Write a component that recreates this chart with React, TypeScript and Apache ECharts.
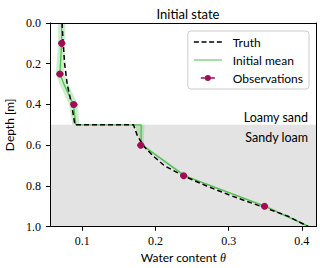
import React, { useEffect, useRef } from "react";
import * as echarts from "echarts";

// Truth profile (dashed)
const truthDepth = [0, 0.1, 0.2, 0.3, 0.4, 0.5, 0.5, 0.55, 0.6, 0.65, 0.7, 0.75, 0.8, 0.85, 0.9, 0.95, 1.0];
const truthTheta = [0.0725, 0.074, 0.076, 0.0795, 0.0855, 0.09, 0.17, 0.175, 0.183, 0.196, 0.212, 0.238, 0.27, 0.305, 0.344, 0.382, 0.409];

// Initial mean (green) and its spread band
const meanDepth = [0, 0.1, 0.25, 0.3, 0.4, 0.49, 0.5, 0.5, 0.575, 0.6, 0.75, 0.9, 1.0];
const meanTheta = [0.072, 0.0718, 0.0695, 0.075, 0.088, 0.091, 0.091, 0.1805, 0.1805, 0.182, 0.24, 0.35, 0.41];
const bandLow = [0.067, 0.067, 0.064, 0.069, 0.082, 0.086, 0.086, 0.172, 0.178, 0.18, 0.237, 0.347, 0.408];
const bandHigh = [0.077, 0.077, 0.075, 0.081, 0.094, 0.096, 0.096, 0.185, 0.184, 0.185, 0.243, 0.353, 0.412];

// Observations
const obsDepth = [0.1, 0.25, 0.4, 0.6, 0.75, 0.9];
const obsTheta = [0.072, 0.0695, 0.0885, 0.18, 0.2386, 0.349];
const obsErr = [0.005, 0.005, 0.005, 0.005, 0.005, 0.005];

// Axis ticks
const xTicks = [0.1, 0.2, 0.3, 0.4];
const layerBoundary = 0.5;
const layerNames = ["Loamy sand", "Sandy loam"];

const OBS_COLOR = "#a00d55";
const GREEN = "#4dbf4d";
const SANS = "Lato, 'Noto Sans', sans-serif";
const SERIF = "'Liberation Serif', 'DejaVu Serif', serif";

const anchors = "M0,0h0.01v0.01h-0.01z M33.99,11.99h0.01v0.01h-0.01z ";
const truthIcon =
  "path://" + anchors + "M0,5.25h5v1.5h-5z M7.7,5.25h5v1.5h-5z M15.3,5.25h5v1.5h-5z M23,5.25h5v1.5h-5z";
const meanIcon = "path://" + anchors + "M0,5.4h28v1.2h-28z";
const obsIcon =
  "path://" + anchors + "M7,5.3h4.2v1.4h-4.2z M16.8,5.3h4.2v1.4h-4.2z M11,6a3,3 0 1,1 6,0a3,3 0 1,1 -6,0z";

export default function App() {
  const ref = useRef<HTMLDivElement>(null);
  useEffect(() => {
    if (!ref.current) return;
    const chart = echarts.init(ref.current, null, { renderer: "svg" });
    const option: any = {
      animation: false,
      backgroundColor: "#fff",
      title: {
        text: "Initial state",
        left: 183,
        textAlign: "center",
        top: 2,
        textStyle: { fontFamily: SANS, fontSize: 13, fontWeight: "normal", color: "#000" },
      },
      grid: { left: 50, right: 3.5, top: 23, bottom: 41.3, containLabel: false, outerBoundsMode: "none" },
      legend: {
        orient: "vertical",
        right: 11,
        top: 31,
        padding: [5, 6, 5, 6],
        itemGap: 6,
        itemWidth: 34,
        itemHeight: 12,
        backgroundColor: "rgba(255,255,255,0.85)",
        borderColor: "#cccccc",
        borderWidth: 1,
        borderRadius: 3,
        itemStyle: { borderWidth: 0 },
        textStyle: { fontFamily: SANS, fontSize: 12, color: "#000" },
        data: [
          { name: "Truth", icon: truthIcon },
          { name: "Initial mean", icon: meanIcon },
          { name: "Observations", icon: obsIcon },
        ],
      },
      xAxis: [
        {
          type: "value",
          min: 0.056,
          max: 0.42,
          z: 10,
          name: "Water content {i|θ}",
          nameLocation: "middle",
          nameGap: 23,
          nameTextStyle: {
            fontFamily: SANS,
            fontSize: 12,
            color: "#000",
            rich: { i: { fontFamily: SERIF, fontStyle: "italic", fontSize: 12, color: "#000" } },
          },
          axisLine: { show: true, onZero: false, lineStyle: { color: "#000", width: 1 } },
          axisTick: { show: true, inside: false, length: 4, customValues: xTicks, lineStyle: { color: "#000" } },
          axisLabel: {
            customValues: xTicks,
            margin: 8,
            fontFamily: SERIF,
            fontSize: 12,
            color: "#000",
            formatter: (v: number) => v.toFixed(1),
          },
          splitLine: { show: false },
        },
        {
          type: "value",
          position: "top",
          min: 0.056,
          max: 0.42,
          z: 10,
          axisLine: { show: true, onZero: false, lineStyle: { color: "#000", width: 1 } },
          axisTick: { show: false },
          axisLabel: { show: false },
          splitLine: { show: false },
        },
      ],
      yAxis: [
        {
          type: "value",
          inverse: true,
          min: 0,
          max: 1,
          interval: 0.2,
          z: 10,
          name: "Depth [m]",
          nameLocation: "middle",
          nameGap: 35,
          nameTextStyle: { fontFamily: SANS, fontSize: 12, color: "#000" },
          axisLine: { show: true, onZero: false, lineStyle: { color: "#000", width: 1 } },
          axisTick: { show: true, inside: false, length: 4, lineStyle: { color: "#000" } },
          axisLabel: {
            margin: 9,
            fontFamily: SERIF,
            fontSize: 12,
            color: "#000",
            formatter: (v: number) => v.toFixed(1),
          },
          splitLine: { show: false },
        },
        {
          type: "value",
          position: "right",
          inverse: true,
          min: 0,
          max: 1,
          z: 10,
          axisLine: { show: true, onZero: false, lineStyle: { color: "#000", width: 1 } },
          axisTick: { show: false },
          axisLabel: { show: false },
          splitLine: { show: false },
        },
      ],
      graphic: [
        {
          type: "text",
          x: 308,
          y: 117,
          z: 20,
          style: {
            text: layerNames[0],
            textAlign: "right",
            textVerticalAlign: "middle",
            fontFamily: SANS,
            fontSize: 12.5,
            fill: "#000",
          },
        },
        {
          type: "text",
          x: 308,
          y: 137,
          z: 20,
          style: {
            text: layerNames[1],
            textAlign: "right",
            textVerticalAlign: "middle",
            fontFamily: SANS,
            fontSize: 12.5,
            fill: "#000",
          },
        },
      ],
      series: [
        {
          type: "custom",
          name: "band",
          xAxisIndex: 0,
          yAxisIndex: 0,
          z: 2,
          clip: true,
          silent: true,
          data: [[meanTheta[0], meanDepth[0]]],
          renderItem: (params: any, api: any) => {
            const pts: number[][] = [];
            for (let i = 0; i < meanDepth.length; i++) pts.push(api.coord([bandLow[i], meanDepth[i]]));
            for (let i = meanDepth.length - 1; i >= 0; i--) pts.push(api.coord([bandHigh[i], meanDepth[i]]));
            return {
              type: "polygon",
              shape: { points: pts },
              style: { fill: "rgba(110,205,110,0.35)", stroke: "none" },
            };
          },
          markArea: {
            silent: true,
            z: 1,
            itemStyle: { color: "#e3e3e3" },
            label: { show: false },
            data: [[{ yAxis: layerBoundary }, { yAxis: 1 }]],
          },
        },
        {
          type: "line",
          name: "Initial mean",
          xAxisIndex: 0,
          yAxisIndex: 0,
          z: 3,
          symbol: "none",
          color: GREEN,
          lineStyle: { color: GREEN, width: 1.3 },
          data: meanDepth.map((d, i) => [meanTheta[i], d]),
        },
        {
          type: "line",
          name: "Truth",
          xAxisIndex: 0,
          yAxisIndex: 0,
          z: 4,
          symbol: "none",
          color: "#000",
          lineStyle: { color: "#000", width: 1.5, type: [5, 3] },
          data: truthDepth.map((d, i) => [truthTheta[i], d]),
        },
        {
          type: "custom",
          name: "obsErr",
          xAxisIndex: 0,
          yAxisIndex: 0,
          z: 5,
          silent: true,
          data: obsDepth.map((d, i) => [obsTheta[i], d, obsErr[i]]),
          renderItem: (params: any, api: any) => {
            const x = api.value(0);
            const y = api.value(1);
            const e = api.value(2);
            const p1 = api.coord([x - e, y]);
            const p2 = api.coord([x + e, y]);
            return {
              type: "line",
              shape: { x1: p1[0], y1: p1[1], x2: p2[0], y2: p2[1] },
              style: { stroke: OBS_COLOR, lineWidth: 1.5 },
            };
          },
        },
        {
          type: "scatter",
          name: "Observations",
          xAxisIndex: 0,
          yAxisIndex: 0,
          z: 6,
          symbol: "circle",
          symbolSize: 7,
          color: OBS_COLOR,
          itemStyle: { color: OBS_COLOR, opacity: 1 },
          data: obsDepth.map((d, i) => [obsTheta[i], d]),
        },
      ],
    };
    chart.setOption(option);
    return () => chart.dispose();
  }, []);
  return (
    <div
      ref={ref}
      style={{ position: "fixed", left: 0, top: 0, width: 320, height: 268 }}
    />
  );
}
